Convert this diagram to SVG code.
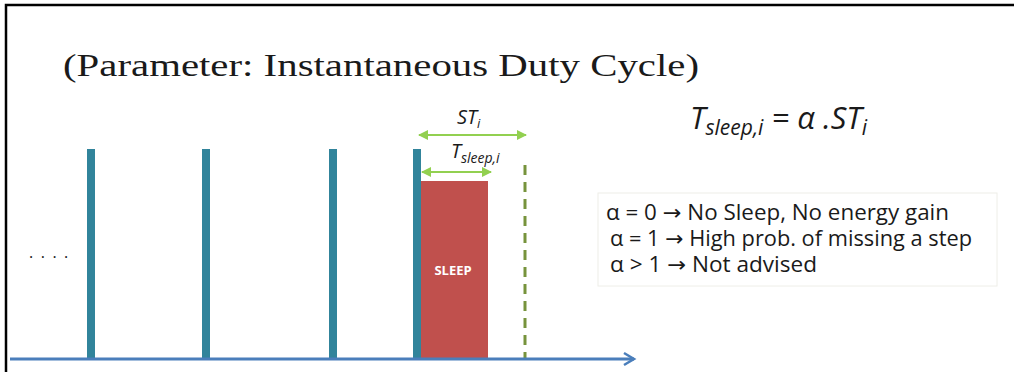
<svg xmlns="http://www.w3.org/2000/svg" width="1014" height="372" viewBox="0 0 1014 372">
<defs>
<marker id="ga" viewBox="0 0 10 10" refX="9" refY="5" markerWidth="5" markerHeight="5" orient="auto-start-reverse" markerUnits="strokeWidth">
<path d="M0,0 L10,5 L0,10 Z" fill="#92d050"/>
</marker>
<style>
.bar{fill:#31849b}
.sans{font-family:"Open Sans","Liberation Sans",sans-serif;fill:#1a1a1a}
.it{font-style:italic}
.gline{stroke:#92d050;stroke-width:2;fill:none}
.arr{font-family:"DejaVu Sans",sans-serif}
</style>
</defs>
<rect x="0" y="0" width="1014" height="372" fill="#fff"/>
<path d="M6,372 V5 H1014" fill="none" stroke="#000" stroke-width="2.5"/>
<text x="63" y="76" font-family="'Liberation Serif',serif" font-size="32" fill="#1a1a1a" textLength="636" lengthAdjust="spacingAndGlyphs">(Parameter: Instantaneous Duty Cycle)</text>
<g id="dots"><text x="29" y="258" class="sans" font-size="16" letter-spacing="7.5">....</text></g>
<g id="bar1"><rect class="bar" x="87" y="149" width="8" height="210"/></g>
<g id="bar2"><rect class="bar" x="202" y="149" width="8" height="210"/></g>
<g id="bar3"><rect class="bar" x="329" y="149" width="8" height="210"/></g>
<g id="bar4"><rect class="bar" x="413" y="149" width="8" height="210"/></g>
<g id="sleep">
<rect x="421" y="181" width="67" height="178" fill="#c0504d"/>
<text x="453" y="275" text-anchor="middle" font-family="'Open Sans','Liberation Sans',sans-serif" font-weight="bold" font-size="13" fill="#fff">SLEEP</text>
</g>
<g id="connectors">
<line x1="525" y1="165" x2="525" y2="358" stroke="#77933c" stroke-width="3" stroke-dasharray="10,7"/>
<line x1="10" y1="359" x2="634" y2="359" stroke="#4a7ebb" stroke-width="3"/>
<path d="M624,353 L634,359 L624,365" fill="none" stroke="#4a7ebb" stroke-width="2.5"/>
<line class="gline" x1="419" y1="135" x2="526" y2="135" marker-start="url(#ga)" marker-end="url(#ga)"/>
<line class="gline" x1="422" y1="172" x2="491" y2="172" marker-start="url(#ga)" marker-end="url(#ga)"/>
</g>
<g id="st-label"><text x="457" y="124" class="sans it" font-size="20">ST<tspan font-size="13" dy="4">i</tspan></text></g>
<g id="tsleep-label"><text x="451" y="158" class="sans it" font-size="20">T<tspan font-size="14" dy="5">sleep,i</tspan></text></g>
<g id="formula"><text x="690" y="129" class="sans it" font-size="31">T<tspan font-size="21" dy="6">sleep,i</tspan><tspan dy="-6"> = α .ST</tspan><tspan font-size="21" dy="6">i</tspan></text></g>
<g id="legend">
<rect x="598" y="193" width="399" height="93" fill="#fff" stroke="#eeeee8" stroke-width="1"/>
<text x="606" y="220" class="sans" font-size="21" textLength="343" lengthAdjust="spacingAndGlyphs">α = 0  <tspan class="arr">→</tspan> No Sleep, No energy gain</text>
<text x="610" y="246" class="sans" font-size="21" textLength="362" lengthAdjust="spacingAndGlyphs">α = 1 <tspan class="arr">→</tspan> High prob. of missing a step</text>
<text x="610" y="272" class="sans" font-size="21" textLength="207" lengthAdjust="spacingAndGlyphs">α &gt; 1 <tspan class="arr">→</tspan> Not advised</text>
</g>
</svg>
